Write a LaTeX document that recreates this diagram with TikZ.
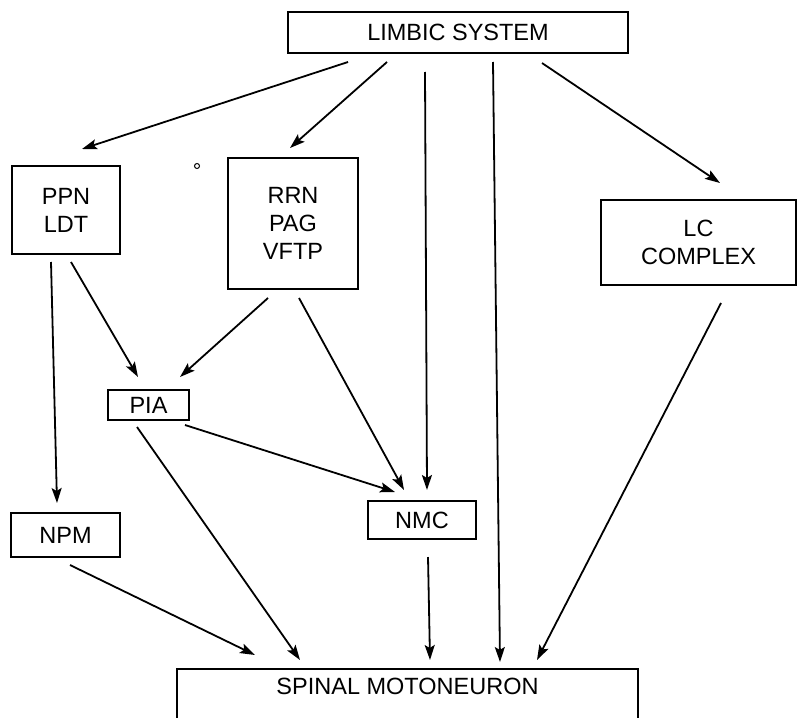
\documentclass[tikz,border=0pt]{standalone}
\usepackage{fontspec}
\setmainfont{Liberation Sans}
\usetikzlibrary{arrows.meta}
\begin{document}
\begin{tikzpicture}[x=1pt,y=-1pt,
  box/.style={draw, line width=1.8pt, rectangle, align=center, inner sep=0pt,
    font=\fontsize{23.5}{28}\selectfont},
  conn/.style={line width=1.8pt, -{Stealth[length=15pt,width=10pt,inset=3pt]}}]
\useasboundingbox (0,0) rectangle (799,717);
\clip (0,0) rectangle (799,717);
\node[box, minimum width=340, minimum height=41] (limbic) at (458,32.5) {LIMBIC SYSTEM};
\node[box, minimum width=108, minimum height=88] (ppn) at (66,210) {PPN\\LDT};
\node[box, minimum width=130, minimum height=131] (rrn) at (293,223.5) {RRN\\PAG\\VFTP};
\node[box, minimum width=195, minimum height=85] (lc) at (698.5,242.5) {LC\\COMPLEX};
\node[box, minimum width=81, minimum height=30] (pia) at (148.5,405) {PIA};
\node[box, minimum width=109, minimum height=44] (npm) at (65.5,535) {NPM};
\node[box, minimum width=108, minimum height=38] (nmc) at (422,520) {NMC};
\node[box, anchor=north, minimum width=461, text height=17pt, text depth=28pt, inner ysep=8.5pt] (spinal) at (407.5,668) {SPINAL MOTONEURON};
\draw[line width=1pt] (197,166) circle (2.5);
% connectors
\coordinate (a1) at (348,62);  \coordinate (b1) at (82,149);
\coordinate (a2) at (387,62);  \coordinate (b2) at (290,148);
\coordinate (a3) at (425,72);  \coordinate (b3) at (427,490);
\coordinate (a4) at (493,62);  \coordinate (b4) at (500,662);
\coordinate (a5) at (542,63);  \coordinate (b5) at (720,183);
\coordinate (a6) at (51,262);  \coordinate (b6) at (57,503);
\coordinate (a7) at (71,262);  \coordinate (b7) at (138,377);
\coordinate (a8) at (268,298); \coordinate (b8) at (180,377);
\coordinate (a9) at (299,298); \coordinate (b9) at (404,490);
\coordinate (a10) at (185,425); \coordinate (b10) at (395,492);
\coordinate (a11) at (137,427); \coordinate (b11) at (300,660);
\coordinate (a12) at (70,565); \coordinate (b12) at (255,655);
\coordinate (a13) at (428,557); \coordinate (b13) at (430,660);
\coordinate (a14) at (721,303); \coordinate (b14) at (537,660);
\draw[conn] (a1) -- (b1);
\draw[conn] (a2) -- (b2);
\draw[conn] (a3) -- (b3);
\draw[conn] (a4) -- (b4);
\draw[conn] (a5) -- (b5);
\draw[conn] (a6) -- (b6);
\draw[conn] (a7) -- (b7);
\draw[conn] (a8) -- (b8);
\draw[conn] (a9) -- (b9);
\draw[conn] (a10) -- (b10);
\draw[conn] (a11) -- (b11);
\draw[conn] (a12) -- (b12);
\draw[conn] (a13) -- (b13);
\draw[conn] (a14) -- (b14);
\end{tikzpicture}
\end{document}
